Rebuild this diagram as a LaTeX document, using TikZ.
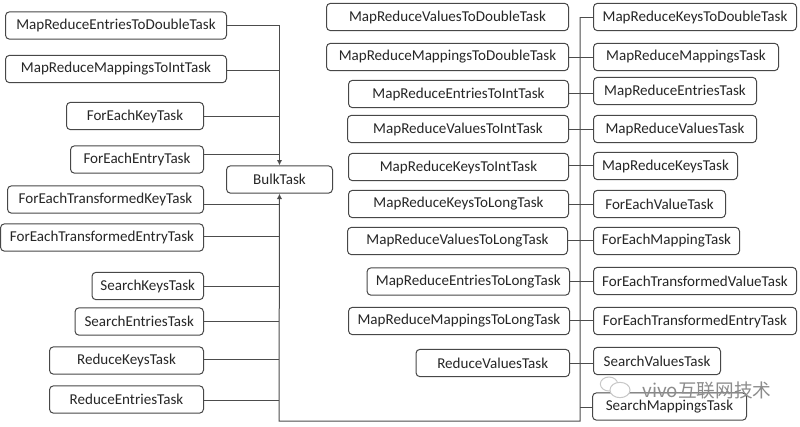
\documentclass[tikz,border=0pt]{standalone}
\usepackage{fontspec}
\setmainfont{Carlito}
\newfontfamily\cjkfont{Noto Sans CJK SC}
\usetikzlibrary{arrows.meta,shapes.geometric}
\begin{document}
\begin{tikzpicture}[x=0.75pt, y=-0.75pt, line width=0.75pt,
                    task node/.style={rectangle,rounded corners=3pt,draw=black!72,anchor=west,inner sep=0pt,
                                      minimum height=20.5pt,text=black!85,font=\fontsize{11.3}{13}\selectfont,
                                      minimum width=#1*0.75pt},
                    bus line/.style={draw=black!70},
                    arrow line/.style={draw=black!70,-{Latex[length=4pt,width=4pt]}},
                    mark bubble/.style={ellipse,draw=black!22,inner sep=0pt}]
	\useasboundingbox (0,0) rectangle (800,426);

	% left column
	\node[task node=221] (L1) at (5,25.5) {MapReduceEntriesToDoubleTask};
	\node[task node=221] (L2) at (5,69) {MapReduceMappingsToIntTask};
	\node[task node=137] (L3) at (66,116) {ForEachKeyTask};
	\node[task node=133] (L4) at (70,159.5) {ForEachEntryTask};
	\node[task node=196] (L5) at (7,199.5) {ForEachTransformedKeyTask};
	\node[task node=203] (L6) at (0,237.5) {ForEachTransformedEntryTask};
	\node[task node=111.5] (L7) at (91.5,286) {SearchKeysTask};
	\node[task node=128.5] (L8) at (74.5,321.5) {SearchEntriesTask};
	\node[task node=154] (L9) at (49,360.5) {ReduceKeysTask};
	\node[task node=154] (L10) at (49,399.5) {ReduceEntriesTask};

	\node[task node=106] (bulk) at (226,179.5) {BulkTask};

	% middle column
	\node[task node=242] (M1) at (326,17) {MapReduceValuesToDoubleTask};
	\node[task node=242] (M2) at (326,57) {MapReduceMappingsToDoubleTask};
	\node[task node=220] (M3) at (348,94) {MapReduceEntriesToIntTask};
	\node[task node=221] (M4) at (347,129) {MapReduceValuesToIntTask};
	\node[task node=220] (M5) at (348,167) {MapReduceKeysToIntTask};
	\node[task node=220] (M6) at (348,204) {MapReduceKeysToLongTask};
	\node[task node=220] (M7) at (347,241) {MapReduceValuesToLongTask};
	\node[task node=202.5] (M8) at (366.5,281.5) {MapReduceEntriesToLongTask};
	\node[task node=221] (M9) at (348,321) {MapReduceMappingsToLongTask};
	\node[task node=153.5] (M10) at (415.5,363) {ReduceValuesTask};

	% right column
	\node[task node=203] (R1) at (593,17) {MapReduceKeysToDoubleTask};
	\node[task node=185] (R2) at (593,57) {MapReduceMappingsTask};
	\node[task node=163] (R3) at (593,91) {MapReduceEntriesTask};
	\node[task node=163] (R4) at (593,129) {MapReduceValuesTask};
	\node[task node=144] (R5) at (593,166) {MapReduceKeysTask};
	\node[task node=132] (R6) at (593,204) {ForEachValueTask};
	\node[task node=146] (R7) at (593,241) {ForEachMappingTask};
	\node[task node=203] (R8) at (593,281) {ForEachTransformedValueTask};
	\node[task node=203] (R9) at (593,321) {ForEachTransformedEntryTask};
	\node[task node=127] (R10) at (593,361) {SearchValuesTask};
	\node[task node=154] (R11) at (592,406.5) {SearchMappingsTask};

	\coordinate (busL) at (279,421);
	\coordinate (busR) at (580,421);

	\draw[arrow line] (L1.east) -| (bulk.north);
	\draw[arrow line] (busR |- R1.west) -- (busR) -- (busL) -- (bulk.south);
	% the lines do not all leave at the middle of a box
	\foreach \n/\d in {L2/1.5,L3/0,L4/-5.5,L5/4.5,L6/-1.5,L7/0,L8/0,L9/-1.5,L10/0.5}
		\draw[bus line] ([yshift=-0.75pt*\d]\n.east) -- ([yshift=-0.75pt*\d]\n.east -| busL);
	\foreach \n/\d in {M2/0,M3/-1,M4/0,M5/-2,M6/0,M7/-1,M8/0,M9/-1,M10/0}
		\draw[bus line] ([yshift=-0.75pt*\d]\n.east) -- ([yshift=-0.75pt*\d]\n.east -| busR);
	\foreach \n/\d in {R1/0,R2/0,R3/2,R4/0,R5/-1,R6/0,R7/-1,R8/0,R9/-1,R10/2,R11/0.5}
		\draw[bus line] ([yshift=-0.75pt*\d]\n.west) -- ([yshift=-0.75pt*\d]\n.west -| busR);

	% watermark
	\node[inner sep=0pt,text=black!45,font=\cjkfont\fontsize{14}{16}\selectfont] (mark) at (707,390) {vivo互联网技术};
	\node[mark bubble,minimum width=13pt,minimum height=10.5pt] (bubbleA) at (609,384) {};
	\node[mark bubble,minimum width=15pt,minimum height=11.5pt,fill=white] (bubbleB) at (620,390) {};
\end{tikzpicture}
\end{document}
